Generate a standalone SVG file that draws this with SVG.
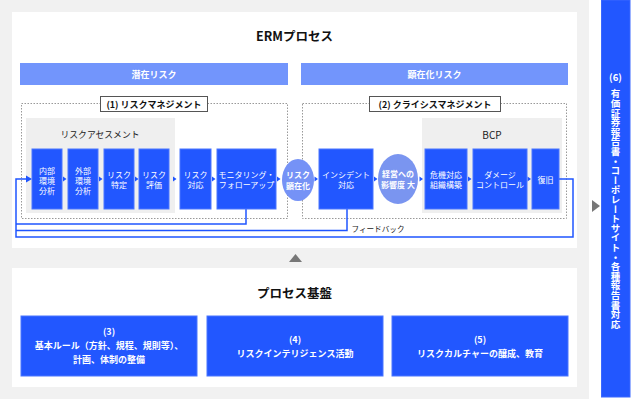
<svg xmlns="http://www.w3.org/2000/svg" width="631" height="399" viewBox="0 0 631 399">
<style>
text{font-family:"Noto Sans CJK JP","Noto Sans",sans-serif;dominant-baseline:central;text-anchor:middle}
.box{fill:#2257ff;stroke:#4a76ff;stroke-width:1}
.bt{fill:#fff;font-size:8px}
.cir{fill:#7592f6}
.ct{fill:#fff;font-size:8px;font-weight:bold}
.bar{fill:#7295fc}
.bart{fill:#fff;font-size:9px;font-weight:bold}
.dot{fill:none;stroke:#999;stroke-width:1;stroke-dasharray:1.5 1.5}
.lbl{fill:#fff;stroke:#555;stroke-width:1}
.lblt{fill:#111;font-size:9px;font-weight:bold}
.gp{fill:#efefef}
.ttl{fill:#111;font-size:12.5px;font-weight:bold}
.fb{fill:none;stroke:#1f55ff;stroke-width:1.5}
.ah{fill:#1f55ff}
.bb{fill:#2257ff;stroke:#4a76ff;stroke-width:1}
.bbt{fill:#fff;font-size:9px;font-weight:bold}
</style>
<rect x="0" y="0" width="631" height="399" fill="#fff"/>
<rect x="0" y="0" width="589" height="399" fill="#f1f1f1"/>
<rect x="12" y="12" width="565" height="236" fill="#fff"/>
<rect x="12" y="268" width="565" height="119" fill="#fff"/>

<g id="title"><text class="ttl" x="294.5" y="35">ERMプロセス</text></g>
<g id="bar-latent"><rect class="bar" x="20" y="63" width="268" height="22"/><text class="bart" x="154" y="74">潜在リスク</text></g>
<g id="bar-actual"><rect class="bar" x="301" y="63" width="267" height="22"/><text class="bart" x="434.5" y="74">顕在化リスク</text></g>

<g id="risk-management">
<rect class="dot" x="21.5" y="103.5" width="266" height="115"/>
<rect class="gp" x="26" y="118" width="149" height="95"/>
<text x="100" y="134" style="font-size:8.8px;fill:#222">リスクアセスメント</text>
<rect class="lbl" x="100.5" y="96.5" width="107" height="15"/>
<text class="lblt" x="154" y="104">(1) リスクマネジメント</text>
</g>
<g id="crisis-management">
<rect class="dot" x="302.5" y="103.5" width="264" height="115"/>
<rect class="gp" x="422" y="118" width="140" height="95"/>
<text x="492" y="134" style="font-size:10px;fill:#222">BCP</text>
<rect class="lbl" x="369.5" y="96.5" width="131" height="15"/>
<text class="lblt" x="435" y="104">(2) クライシスマネジメント</text>
</g>

<g id="connectors">
<path class="fb" d="M246,209 V224 H16"/>
<path class="fb" d="M347,209 V230.5 H16"/>
<path class="fb" d="M559,179 H573 V237 H16 V179 H27"/>
<polygon class="ah" points="26,175.5 32,179 26,182.5"/>
<g class="ah">
<polygon points="63,176.5 66.5,179 63,181.5"/>
<polygon points="99,176.5 102.5,179 99,181.5"/>
<polygon points="135,176.5 138.5,179 135,181.5"/>
<polygon points="173,176.5 176.5,179 173,181.5"/>
<polygon points="212,176.5 215.5,179 212,181.5"/>
<polygon points="277,176.5 280.5,179 277,181.5"/>
<polygon points="314.5,176.5 318,179 314.5,181.5"/>
<polygon points="374,176.5 377.5,179 374,181.5"/>
<polygon points="419.5,176.5 423,179 419.5,181.5"/>
<polygon points="468,176.5 471.5,179 468,181.5"/>
<polygon points="527.5,176.5 531,179 527.5,181.5"/>
</g>
<text x="378" y="228" style="font-size:7.6px;fill:#222">フィードバック</text>
<polygon points="289,262 302,262 295.5,254" fill="#777"/>
<polygon points="592,200 600,206 592,212" fill="#777"/>
</g>

<g id="n-internal"><rect class="box" x="32" y="149" width="30" height="60"/><text class="bt" x="47" y="170">内部</text><text class="bt" x="47" y="180">環境</text><text class="bt" x="47" y="190">分析</text></g>
<g id="n-external"><rect class="box" x="68" y="149" width="30" height="60"/><text class="bt" x="83" y="170">外部</text><text class="bt" x="83" y="180">環境</text><text class="bt" x="83" y="190">分析</text></g>
<g id="n-identify"><rect class="box" x="104" y="149" width="30" height="60"/><text class="bt" x="119" y="174.5">リスク</text><text class="bt" x="119" y="184.5">特定</text></g>
<g id="n-evaluate"><rect class="box" x="139" y="149" width="30" height="60"/><text class="bt" x="154" y="174.5">リスク</text><text class="bt" x="154" y="184.5">評価</text></g>
<g id="n-response"><rect class="box" x="180" y="149" width="31" height="60"/><text class="bt" x="195.5" y="174.5">リスク</text><text class="bt" x="195.5" y="184.5">対応</text></g>
<g id="n-monitoring"><rect class="box" x="217" y="149" width="59" height="60"/><text class="bt" x="246.5" y="174.5">モニタリング・</text><text class="bt" x="246.5" y="184.5">フォローアップ</text></g>
<g id="n-manifest"><ellipse class="cir" cx="298" cy="180" rx="16" ry="21"/><text class="ct" x="298" y="174">リスク</text><text class="ct" x="298" y="185">顕在化</text></g>
<g id="n-incident"><rect class="box" x="319" y="149" width="54" height="60"/><text class="bt" x="346" y="174.5">インシデント</text><text class="bt" x="346" y="184.5">対応</text></g>
<g id="n-impact"><ellipse class="cir" cx="398" cy="179" rx="20" ry="25" style="fill:#7a95f0"/><text class="ct" x="398" y="173.5">経営への</text><text class="ct" x="398" y="184.5">影響度 大</text></g>
<g id="n-org"><rect class="box" x="425" y="149" width="42" height="60"/><text class="bt" x="446" y="174.5">危機対応</text><text class="bt" x="446" y="184.5">組織構築</text></g>
<g id="n-damage"><rect class="box" x="473" y="149" width="54" height="60"/><text class="bt" x="500" y="174.5">ダメージ</text><text class="bt" x="500" y="184.5">コントロール</text></g>
<g id="n-recovery"><rect class="box" x="532" y="149" width="27" height="60"/><text class="bt" x="545.5" y="179.5">復旧</text></g>

<g id="foundation-title"><text class="ttl" x="294.5" y="292">プロセス基盤</text></g>
<g id="n3"><rect class="bb" x="21" y="316" width="176" height="60"/><text class="bbt" x="109" y="331">(3)</text><text class="bbt" x="109" y="345">基本ルール（方針、規程、規則等）、</text><text class="bbt" x="109" y="359">計画、体制の整備</text></g>
<g id="n4"><rect class="bb" x="207" y="316" width="176" height="60"/><text class="bbt" x="295" y="339">(4)</text><text class="bbt" x="295" y="353">リスクインテリジェンス活動</text></g>
<g id="n5"><rect class="bb" x="392" y="316" width="176" height="60"/><text class="bbt" x="480" y="339">(5)</text><text class="bbt" x="480" y="353">リスクカルチャーの醸成、教育</text></g>

<g id="n6"><rect x="601.5" y="0" width="28.5" height="397" fill="#2257ff" stroke="#3a68ff" stroke-width="1"/>
<text class="bbt" x="615.5" y="77" style="font-size:9.5px">(6)</text>
<text x="615.5" y="89" style="writing-mode:vertical-rl;text-anchor:start;dominant-baseline:central;font-size:9.5px;font-weight:bold;fill:#fff;letter-spacing:0.1px">有価証券報告書・コーポレートサイト・各種報告書対応</text>
</g>
</svg>
